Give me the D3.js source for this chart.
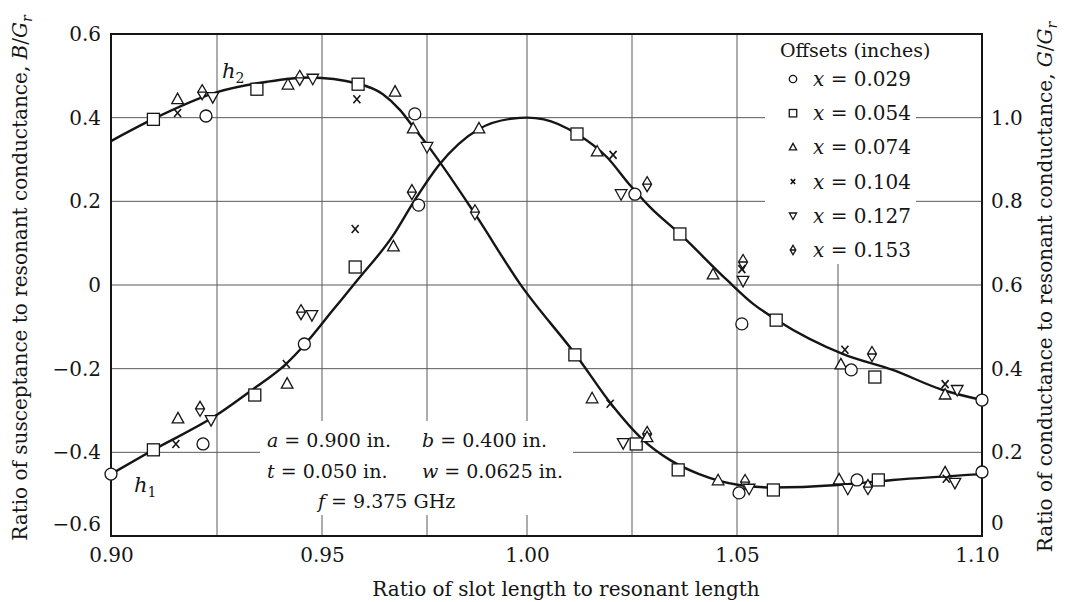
<!DOCTYPE html>
<html>
<head>
<meta charset="utf-8">
<title>Slot susceptance and conductance</title>
<script src="https://cdn.jsdelivr.net/npm/d3@7"></script>
<style>
  body { margin: 0; background: #fff; }
  svg { display: block; font-family: "DejaVu Serif", serif; }
</style>
</head>
<body>
<script>

// grid every 0.025 on x, labels every 0.05
var xGrid = [0.900, 0.925, 0.950, 0.975, 1.000, 1.025, 1.050, 1.075, 1.100];
var xLabels = [0.90, 0.95, 1.00, 1.05, 1.10];
var yBTicks = [-0.6, -0.4, -0.2, 0, 0.2, 0.4, 0.6];
var yGTicks = [0, 0.2, 0.4, 0.6, 0.8, 1.0];
var offsets = ['0.029', '0.054', '0.074', '0.104', '0.127', '0.153'];

// faired curves: [slot ratio, value]
// B/Gr on the left scale
var bCurve = [[0.900, 0.344], [0.910, 0.397], [0.925, 0.461], [0.937, 0.486], [0.947, 0.496],
    [0.9586, 0.481], [0.9645, 0.456], [0.9686, 0.418], [0.9717, 0.378], [0.9753, 0.332],
    [0.987, 0.170], [0.9983, 0.002], [1.012, -0.172], [1.020, -0.284], [1.0276, -0.370],
    [1.034, -0.418], [1.041, -0.452], [1.0505, -0.478], [1.059, -0.484], [1.075, -0.478],
    [1.0845, -0.466], [1.100, -0.452]];
// G/Gr on the right scale
var gCurve = [[0.900, 0.148], [0.910, 0.206], [0.9249, 0.289], [0.9336, 0.351], [0.9412, 0.409],
    [0.946, 0.459], [0.9526, 0.540], [0.9583, 0.610], [0.9669, 0.718], [0.9719, 0.800],
    [0.978, 0.887], [0.988, 0.973], [0.9965, 0.998], [1.000, 1.000], [1.004, 0.996],
    [1.0119, 0.961], [1.019, 0.906], [1.0245, 0.839], [1.0293, 0.786], [1.0364, 0.722],
    [1.0476, 0.612], [1.054, 0.555], [1.0599, 0.516], [1.0759, 0.435], [1.0845, 0.397],
    [1.0932, 0.349], [1.100, 0.325]];

// measured points: [slot ratio, value, offset index]
var bPoints = [[0.910, 0.396, 1], [0.9157, 0.443, 2], [0.9157, 0.411, 3], [0.9224, 0.404, 0],
    [0.9215, 0.461, 5], [0.924, 0.449, 4], [0.9345, 0.468, 1], [0.9419, 0.478, 2],
    [0.9447, 0.495, 5], [0.9478, 0.493, 4], [0.9586, 0.480, 1], [0.9583, 0.444, 3],
    [0.9674, 0.461, 2], [0.9721, 0.409, 0], [0.9717, 0.373, 2], [0.975, 0.330, 4],
    [0.987, 0.174, 5],
    [1.0114, -0.167, 1], [1.0155, -0.272, 2], [1.0198, -0.284, 3], [1.0229, -0.378, 4],
    [1.026, -0.380, 1], [1.0286, -0.356, 5], [1.0286, -0.365, 2], [1.036, -0.442, 1],
    [1.0455, -0.468, 2], [1.052, -0.471, 5], [1.0505, -0.497, 0], [1.053, -0.487, 4],
    [1.059, -0.490, 1], [1.0752, -0.466, 2], [1.0767, -0.487, 4], [1.0783, -0.466, 0],
    [1.0802, -0.483, 5], [1.082, -0.466, 1], [1.0936, -0.449, 2], [1.0938, -0.463, 3],
    [1.0953, -0.473, 4], [1.100, -0.447, 0]];
var gPoints = [[0.900, 0.148, 0], [0.910, 0.206, 1], [0.9153, 0.220, 3], [0.9158, 0.280, 2],
    [0.9217, 0.220, 0], [0.921, 0.304, 5], [0.9236, 0.277, 4], [0.934, 0.337, 1],
    [0.9415, 0.411, 3], [0.9417, 0.363, 2], [0.9458, 0.459, 0], [0.945, 0.535, 5],
    [0.9476, 0.528, 4], [0.9579, 0.734, 3], [0.9579, 0.643, 1], [0.967, 0.691, 2],
    [0.9714, 0.822, 5], [0.973, 0.791, 0], [0.988, 0.973, 2],
    [1.0119, 0.961, 1], [1.0167, 0.918, 2], [1.0205, 0.911, 3], [1.0224, 0.817, 4],
    [1.0257, 0.817, 0], [1.0286, 0.841, 5], [1.0364, 0.722, 1], [1.0443, 0.624, 2],
    [1.0515, 0.655, 5], [1.0512, 0.638, 3], [1.0515, 0.610, 4], [1.0512, 0.507, 0],
    [1.0597, 0.516, 1], [1.0762, 0.445, 3], [1.0755, 0.409, 2], [1.0773, 0.397, 0],
    [1.0809, 0.435, 5], [1.0814, 0.380, 1], [1.0936, 0.363, 3], [1.0936, 0.337, 2],
    [1.0957, 0.349, 4], [1.100, 0.325, 0]];

var ink = '#151515';

var svg = d3.select('body').append('svg')
    .attr('width', 1065)
    .attr('height', 602);

// the original grid is not evenly spaced (last column is wider), so map grid to grid
var x = d3.scaleLinear().domain(xGrid).range([111, 217, 322, 427, 527, 632, 737, 838, 982]);
var yB = d3.scaleLinear().domain([-0.6, 0.6]).range([536, 34]);
var yG = d3.scaleLinear().domain([0, 1.2]).range([536, 34]);

// grid
var grid = svg.append('g').attr('stroke', '#5a5a5a').attr('stroke-width', 1);
grid.selectAll('line.v').data(xGrid.slice(1, -1)).enter().append('line')
    .attr('x1', function(d) { return x(d); })
    .attr('x2', function(d) { return x(d); })
    .attr('y1', yB(0.6)).attr('y2', yB(-0.6));
grid.selectAll('line.h').data(yBTicks.slice(1, -1)).enter().append('line')
    .attr('x1', x(0.9)).attr('x2', x(1.1))
    .attr('y1', function(d) { return yB(d); })
    .attr('y2', function(d) { return yB(d); });

// white patches under legend and the dimensions note
svg.append('rect').attr('x', 765).attr('y', 35).attr('width', 151).attr('height', 229).attr('fill', '#fff');
svg.append('rect').attr('x', 260).attr('y', 421).attr('width', 313).attr('height', 94).attr('fill', '#fff');

// frame
svg.append('rect')
    .attr('x', x(0.9)).attr('y', yB(0.6))
    .attr('width', x(1.1) - x(0.9)).attr('height', yB(-0.6) - yB(0.6))
    .attr('fill', 'none').attr('stroke', ink).attr('stroke-width', 2);

// axes
var f1 = d3.format('.1f');
function tick1(d) { return d === 0 ? '0' : f1(d); }

function styleAxis(g) {
    g.select('.domain').remove();
    g.attr('font-family', '"DejaVu Serif", serif').attr('font-size', 20);
    g.selectAll('text').attr('fill', ink);
}

var axL = svg.append('g').attr('transform', 'translate(' + x(0.9) + ',0)')
    .call(d3.axisLeft(yB).tickValues(yBTicks).tickSize(0).tickPadding(10).tickFormat(tick1))
    .call(styleAxis);
// lowest labels sit a little above the bottom line in the original
axL.selectAll('text').filter(function(d) { return d === -0.6; }).attr('y', -12);

var axR = svg.append('g').attr('transform', 'translate(' + x(1.1) + ',0)')
    .call(d3.axisRight(yG).tickValues(yGTicks).tickSize(0).tickPadding(9).tickFormat(tick1))
    .call(styleAxis);
axR.selectAll('text').filter(function(d) { return d === 0; }).attr('y', -13);

var axX = svg.append('g').attr('transform', 'translate(0,' + yB(-0.6) + ')')
    .call(d3.axisBottom(x).tickValues(xLabels).tickSize(0).tickPadding(12).tickFormat(d3.format('.2f')))
    .call(styleAxis);
axX.selectAll('text').filter(function(d) { return d === 1.10; }).attr('x', -5);

// curves
var lineB = d3.line()
    .x(function(d) { return x(d[0]); })
    .y(function(d) { return yB(d[1]); })
    .curve(d3.curveMonotoneX);
var lineG = d3.line()
    .x(function(d) { return x(d[0]); })
    .y(function(d) { return yG(d[1]); })
    .curve(d3.curveMonotoneX);

svg.append('path').datum(bCurve).attr('d', lineB)
    .attr('fill', 'none').attr('stroke', ink).attr('stroke-width', 2.4);
svg.append('path').datum(gCurve).attr('d', lineG)
    .attr('fill', 'none').attr('stroke', ink).attr('stroke-width', 2.4);

// markers
var markerPath = {
    2: 'M0,-6.5L5.8,4L-5.8,4Z',
    3: 'M-3.5,-4L3.5,4M3.5,-4L-3.5,4',
    4: 'M0,6L5.8,-4.5L-5.8,-4.5Z',
    5: 'M0,-7.5L4.5,0L0,7.5L-4.5,0ZM-4.5,0H4.5'
};

function marker(g, k, s) {
    var r = 6 * s;
    var m;
    if (k === 0) {
        m = g.append('circle').attr('r', r);
    } else if (k === 1) {
        m = g.append('rect').attr('x', -r).attr('y', -r).attr('width', 2 * r).attr('height', 2 * r);
    } else {
        m = g.append('path').attr('d', markerPath[k])
            .attr('transform', 'scale(' + s + ')')
            .attr('vector-effect', 'non-scaling-stroke');
    }
    m.attr('fill', k === 3 ? 'none' : '#fff')
        .attr('stroke', ink)
        .attr('stroke-width', k === 3 ? 1.6 : 1.3);
}

svg.append('g').selectAll('g').data(bPoints).enter().append('g')
    .attr('transform', function(d) { return 'translate(' + x(d[0]) + ',' + yB(d[1]) + ')'; })
    .each(function(d) { marker(d3.select(this), d[2], 1); });

svg.append('g').selectAll('g').data(gPoints).enter().append('g')
    .attr('transform', function(d) { return 'translate(' + x(d[0]) + ',' + yG(d[1]) + ')'; })
    .each(function(d) { marker(d3.select(this), d[2], 1); });

// text helpers
function mathText(parent, px, py, sym, rest, size) {
    var t = parent.append('text').attr('x', px).attr('y', py)
        .attr('font-size', size).attr('fill', ink);
    t.append('tspan').attr('font-style', 'italic').text(sym);
    t.append('tspan').text(rest);
    return t;
}

// legend
var lg = svg.append('g');
lg.append('text').attr('x', 780).attr('y', 57).attr('font-size', 19).attr('fill', ink)
    .text('Offsets (inches)');
var rows = lg.selectAll('g.row').data(offsets).enter().append('g')
    .attr('transform', function(d, i) { return 'translate(0,' + (79 + i * 34.2) + ')'; });
rows.each(function(d, i) {
    var row = d3.select(this);
    marker(row.append('g').attr('transform', 'translate(793,0)'), i, 0.62);
    mathText(row, 813, 7, 'x', ' = ' + d, 20);
});

// dimensions note
var note = svg.append('g');
mathText(note, 267, 447, 'a', ' = 0.900 in.', 19);
mathText(note, 422, 447, 'b', ' = 0.400 in.', 19);
mathText(note, 267, 478, 't', ' = 0.050 in.', 19);
mathText(note, 422, 478, 'w', ' = 0.0625 in.', 19);
mathText(note, 318, 508, 'f', ' = 9.375 GHz', 19);

// curve labels
function hLabel(px, py, sub) {
    var t = svg.append('text').attr('x', px).attr('y', py).attr('font-size', 21).attr('fill', ink);
    t.append('tspan').attr('font-style', 'italic').text('h');
    t.append('tspan').attr('font-size', 14).attr('dy', 5).text(sub);
}
hLabel(222, 78, '2');
hLabel(134, 492, '1');

// axis titles
function ratioTitle(tx, ty, words, sym) {
    var t = svg.append('text')
        .attr('transform', 'translate(' + tx + ',' + ty + ') rotate(-90)')
        .attr('text-anchor', 'middle').attr('font-size', 20).attr('fill', ink);
    t.append('tspan').text(words);
    t.append('tspan').attr('font-style', 'italic').text(sym);
    t.append('tspan').text('/');
    t.append('tspan').attr('font-style', 'italic').text('G');
    t.append('tspan').attr('font-style', 'italic').attr('font-size', 14).attr('dy', 5).text('r');
}
ratioTitle(27, 278, 'Ratio of susceptance to resonant conductance, ', 'B');
ratioTitle(1052, 287, 'Ratio of conductance to resonant conductance, ', 'G');

svg.append('text').attr('x', 566).attr('y', 596).attr('text-anchor', 'middle')
    .attr('font-size', 20).attr('fill', ink)
    .text('Ratio of slot length to resonant length');

</script>
</body>
</html>
